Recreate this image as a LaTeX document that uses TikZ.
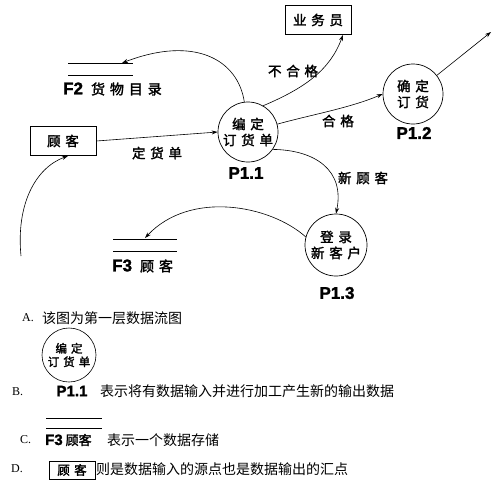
\documentclass[tikz,border=0pt]{standalone}
\usepackage{fontspec}
\setmainfont{Liberation Serif}
\newfontfamily\cjk{Noto Sans CJK SC}
\newfontfamily\cjkw[LetterSpace=35,FakeBold=2]{Noto Sans CJK SC}
\newfontfamily\cjkb[FakeBold=2]{Noto Sans CJK SC}
\newfontfamily\lab[FakeBold=1.5]{Liberation Sans Bold}
\usetikzlibrary{arrows.meta}
\begin{document}
\begin{tikzpicture}[x=1pt,y=-1pt,
  every node/.style={inner sep=0pt},
  ext/.style={draw,line width=0.8pt,minimum width=66pt,minimum height=29pt,font=\fontsize{13.5}{15}\selectfont\cjkw},
  proc/.style={draw,circle,line width=0.7pt,minimum size=60pt,align=center,font=\fontsize{13.5}{16}\selectfont\cjkw},
  pid/.style={font=\fontsize{17}{19}\selectfont\lab},
  flowlbl/.style={font=\fontsize{13.5}{15}\selectfont\cjkw},
  storelbl/.style={font=\fontsize{14}{16}\selectfont\cjkw,anchor=west},
  flow/.style={line width=0.6pt,-{Stealth[length=6pt,width=4pt]}},
  legend/.style={font=\fontsize{14}{16}\selectfont\cjk,anchor=west},
  letter/.style={font=\fontsize{12}{14}\selectfont,anchor=west}]
\useasboundingbox (0,0) rectangle (500,493);
% external entities
\node[ext] (clerk) at (318,20) {业务员};
\node[ext] (cust) at (63,141) {顾客};
% processes
\node[proc] (p11) at (248,132) {编定\\订货单};
\node[pid] (p11l) at (246,173) {P1.1};
\node[proc] (p12) at (413,94) {确定\\订货};
\node[pid] (p12l) at (414,133) {P1.2};
\node[proc,minimum size=62pt] (p13) at (336,245) {登录\\新客户};
\node[pid] (p13l) at (337,293) {P1.3};
% data stores
\draw[line width=0.7pt] (68,63) -- (133,63);
\draw[line width=0.7pt] (68,75) -- (133,75);
\coordinate (f2in) at (122,63);
\node[storelbl] (f2) at (63,89) {{\fontsize{17}{19}\selectfont\lab F2} 货物目录};
\draw[line width=0.7pt] (113,239) -- (177,239);
\draw[line width=0.7pt] (113,251) -- (177,251);
\coordinate (f3in) at (145,238);
\node[storelbl] (f3) at (112,266) {{\fontsize{17}{19}\selectfont\lab F3} 顾客};
% flows
\draw[flow] (cust.east) -- node[flowlbl,below=10pt] (lbl1) {定货单} (p11.west);
\draw[flow] (p11.97) .. controls (238,60) and (195,35) .. (f2in);
\draw[flow] (p11.60) .. controls (305,88) and (330,70) .. (clerk.south -| 343,0);
\node[flowlbl] (lbl2) at (293,71) {不合格};
\draw[flow] (p11.15) .. controls (310,115) and (350,108) .. (p12.west);
\node[flowlbl] (lbl3) at (338,121) {合格};
\coordinate (out) at (491,32);
\draw[flow] (p12.38) -- (out);
\draw[flow] (p11.-35) .. controls (315,150) and (345,170) .. (p13.north);
\node[flowlbl] (lbl4) at (363,178) {新顾客};
\draw[flow] (p13.165) .. controls (270,205) and (190,190) .. (f3in);
\coordinate (src) at (21,256);
\draw[flow] (src) .. controls (16,205) and (35,168) .. (cust.south -| 68,0);
% legend
\node[letter] (la) at (22,318) {A.};
\node[legend] (ta) at (42,318) {该图为第一层数据流图};
\node[draw,circle,line width=0.6pt,minimum size=54pt,align=center,font=\fontsize{11.5}{13.5}\selectfont\cjkw] (bp) at (69,355) {编定\\订货单};
\node[letter] (lb) at (12,392) {B.};
\node[font=\fontsize{15}{17}\selectfont\lab] (bl) at (72,391) {P1.1};
\node[legend] (tb) at (100,391) {表示将有数据输入并进行加工产生新的输出数据};
\draw[line width=0.6pt] (46,418) -- (102,418);
\draw[line width=0.6pt] (46,428) -- (102,428);
\node[letter] (lc) at (20,440) {C.};
\node[anchor=west,font=\fontsize{13}{15}\selectfont\cjkb] (cs) at (45,440) {{\fontsize{15}{17}\selectfont\lab F3} 顾客};
\node[legend] (tc) at (107,440) {表示一个数据存储};
\node[letter] (ld) at (11,469) {D.};
\node[draw,line width=0.6pt,minimum width=46pt,minimum height=18pt,font=\fontsize{12.5}{14}\selectfont\cjkw] (db) at (72,470) {顾客};
\node[legend] (td) at (96,469) {则是数据输入的源点也是数据输出的汇点};
\end{tikzpicture}
\end{document}
